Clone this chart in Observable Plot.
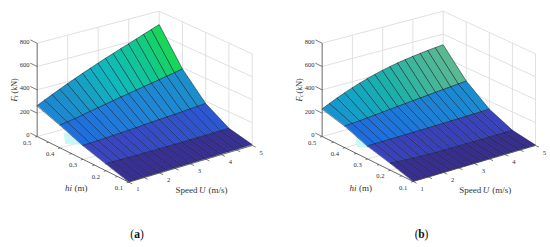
<!DOCTYPE html>
<html><head><meta charset="utf-8">
<script src="https://cdn.jsdelivr.net/npm/d3@7"></script>
<script src="https://cdn.jsdelivr.net/npm/@observablehq/plot@0.6"></script>
<style>
html,body{margin:0;padding:0;background:#fff;width:550px;height:247px;overflow:hidden}
#root{display:flex;width:550px;height:247px}
svg{display:block}
</style></head><body><div id="root"></div>
<script>
const speeds = [1,1.25,1.5,1.75,2,2.25,2.5,2.75,3,3.25,3.5,3.75,4,4.25,4.5,4.75,5];
const hiLevels = [0.1,0.2,0.3,0.4,0.5];

const forceA_01 = [4,4,4,5,5,5,5,6,6,6,6,7,7,7,8,8,8];
const forceA_02 = [60,58,57,56,55,54,54,54,54,54,54,54,55,55,56,56,57];
const forceA_03 = [118,120,123,127,130,133,137,141,146,150,154,158,162,166,171,175,180];
const forceA_04 = [196,205,215,228,242,254,266,279,291,303,315,327,338,350,363,376,389];
const forceA_05 = [265,296,326,355,383,411,438,464,490,515,539,563,587,611,635,659,683];

const forceB_01 = [3,3,3,3,3,3,3,3,3,3,4,4,4,4,4,4,4];
const forceB_02 = [60,54,50,47,44,42,40,39,38,38,38,38,38,38,39,39,40];
const forceB_03 = [111,112,113,114,115,116,117,118,119,120,121,123,124,126,127,129,131];
const forceB_04 = [186,190,195,202,208,214,221,228,234,241,247,253,259,265,271,277,283];
const forceB_05 = [237,267,296,323,348,371,392,411,428,443,456,467,477,486,494,501,507];

const forceTicks = [0,200,400,600,800];
const hiTickLabels = ["0.1","0.2","0.3","0.4","0.5"];
const speedTickLabels = ["1","2","3","4","5"];
const hiMinor = [0.1,0.15,0.2,0.25,0.3,0.35,0.4,0.45,0.5];
const speedMinor = [1,1.5,2,2.5,3,3.5,4,4.5,5];
const patchSpeed = [1.72,1.28,1.59,2.1];
const patchHi = [0.48,0.414,0.383,0.42];

function panel(cfg){
  const {lo,up,rows} = cfg;
  const P = (U,hi,F)=>{
    const u=(U-1)/4,v=(hi-0.1)/0.4,w=F/800;
    const bil=(c,k)=>(1-u)*(1-v)*c[0][k]+u*(1-v)*c[1][k]+(1-u)*v*c[2][k]+u*v*c[3][k];
    return [0,1].map(k=>bil(lo,k)*(1-w)+bil(up,k)*w);
  };
  const seg=(a,b)=>{const p=P(...a),q=P(...b);return {x1:p[0],y1:p[1],x2:q[0],y2:q[1]};};

  const quads=[];
  for(let r=rows.length-2;r>=0;r--) for(let i=0;i<speeds.length-1;i++){
    const c=[[speeds[i],hiLevels[r],rows[r][i]],[speeds[i+1],hiLevels[r],rows[r][i+1]],
             [speeds[i+1],hiLevels[r+1],rows[r+1][i+1]],[speeds[i],hiLevels[r+1],rows[r+1][i]]];
    const mean=d3.mean(c,d=>d[2]);
    c.forEach(d=>{const p=P(...d);quads.push({id:r*100+i,x:p[0],y:p[1],mean});});
  }
  const grid=[];
  for(const F of forceTicks){
    grid.push(seg([1,.5,F],[5,.5,F]),seg([5,.5,F],[5,.1,F]));
  }
  for(const U of [2,3,4,5]) grid.push(seg([U,.5,0],[U,.5,800]));
  for(const h of [.2,.3,.4,.1]) grid.push(seg([5,h,0],[5,h,800]));
  for(const U of [2,3,4]) grid.push(seg([U,.5,0],[U,.1,0]));
  for(const h of [.2,.3,.4]) grid.push(seg([1,h,0],[5,h,0]));

  const axes=[seg([1,.5,0],[1,.5,800]),seg([1,.5,0],[1,.1,0]),seg([1,.1,0],[5,.1,0])];
  const ticks=[
    ...forceTicks.map(F=>seg([1,.5,F],[1,.53,F])),
    ...hiMinor.map(h=>seg([1,h,0],[.93,h,0])),
    ...speedMinor.map(U=>seg([U,.1,0],[U,.085,0]))
  ];
  const patch=patchSpeed.map((U,i)=>{const p=P(U,patchHi[i]+cfg.patchShift,0);return {x:p[0],y:p[1]};});

  const zLab=forceTicks.map(F=>{const p=P(1,.5,F);return {x:p[0]-7.5,y:p[1]-1.5,t:String(F)};});
  const hLab=hiLevels.map((h,i)=>{const p=P(1,h,0);return {x:p[0]-10,y:p[1]+6,t:hiTickLabels[i]};});
  const uLab=[1,2,3,4,5].map((U,i)=>{const p=P(U,.1,0);return {x:p[0]+9,y:p[1]+7,t:speedTickLabels[i]};});

  const serif="Liberation Serif";
  const tx=(s,x,y,o={})=>Plot.text([s],{x:()=>x,y:()=>y,text:d=>d,fontFamily:serif,fill:"#333",fontSize:9,...o});
  const T=cfg.titles;

  return Plot.plot({
    width:275,height:247,marginTop:0,marginBottom:0,marginLeft:0,marginRight:0,
    style:{background:"transparent"},
    x:{domain:[0,275],range:[0,275],axis:null},
    y:{domain:[0,247],range:[0,247],axis:null},
    color:{type:"linear",domain:cfg.colorDomain,range:cfg.colorRange,clamp:true},
    marks:[
      Plot.link(grid,{x1:"x1",y1:"y1",x2:"x2",y2:"y2",stroke:"#dcdcdc",strokeWidth:0.9}),
      Plot.line(patch,{x:"x",y:"y",curve:"linear-closed",fill:"#c9f7f7",stroke:"none"}),
      Plot.line(quads,{x:"x",y:"y",z:"id",curve:"linear-closed",fill:"mean",stroke:"#14243c",strokeWidth:0.6,strokeOpacity:0.9}),
      Plot.link(axes,{x1:"x1",y1:"y1",x2:"x2",y2:"y2",stroke:"#444",strokeWidth:0.8}),
      Plot.link(ticks,{x1:"x1",y1:"y1",x2:"x2",y2:"y2",stroke:"#444",strokeWidth:0.7}),
      Plot.text(zLab,{x:"x",y:"y",text:"t",textAnchor:"end",fontFamily:serif,fontSize:6.6,fill:"#333"}),
      Plot.text(hLab,{x:"x",y:"y",text:"t",fontFamily:serif,fontSize:6.6,fill:"#333"}),
      Plot.text(uLab,{x:"x",y:"y",text:"t",fontFamily:serif,fontSize:6.6,fill:"#333"}),
      tx("Speed",T.sx,T.sy,{textAnchor:"end"}),
      tx("U",T.sx+4.8,T.sy,{fontStyle:"italic"}),
      tx("(m/s)",T.sx+11,T.sy,{textAnchor:"start"}),
      tx("hi",T.hx,T.hy,{textAnchor:"end",fontStyle:"italic"}),
      tx("(m)",T.hx+2.5,T.hy,{textAnchor:"start"}),
      tx("F",T.fx,T.fy,{rotate:-90,textAnchor:"start",fontStyle:"italic",fontSize:8}),
      tx(T.sub,T.fx+1.8,T.fy-4.5,{rotate:-90,textAnchor:"start",fontStyle:"italic",fontSize:5.5}),
      tx("(kN)",T.fx,T.fy-8,{rotate:-90,textAnchor:"start",fontSize:8}),
      tx("(",T.cx-3,234,{textAnchor:"end",fill:"#111",fontSize:11.5}),
      tx(T.cap,T.cx,234,{fontWeight:"bold",fill:"#111",fontSize:11.5}),
      tx(")",T.cx+3,234,{textAnchor:"start",fill:"#111",fontSize:11.5})
    ]
  });
}
const div3=a=>a.map(p=>[p[0]/3,p[1]/3]);
const low=["#352a80","#392f92","#3a45c0","#1f68e0"];
const root=document.getElementById("root");
root.append(panel({
  rows:[forceA_01,forceA_02,forceA_03,forceA_04,forceA_05],
  lo:div3([[385,545],[755,435],[110,408],[476,307]]),
  up:div3([[385,260],[755,160],[110,128],[476,32]]),
  patchShift:0,
  colorDomain:[0,30,90,140,232,300,392,470,536],
  colorRange:[...low,"#1f85d5","#1a92c8","#10b8c0","#10c890","#18d850"],
  titles:{sub:"t",sx:197,sy:189.5,hx:71.5,hy:187.5,fx:13.5,fy:101,cap:"a",cx:136.5}
}));
root.append(panel({
  rows:[forceB_01,forceB_02,forceB_03,forceB_04,forceB_05],
  lo:div3([[413,543],[780,435],[140,408],[503,307]]),
  up:div3([[413,260],[780,160],[140,128],[503,32]]),
  patchShift:-0.03,
  colorDomain:[0,30,90,140,211,270,330,395],
  colorRange:[...low,"#1a90d0","#12a5c4","#1cb2a8","#5cb98f"],
  titles:{sub:"c",sx:205.7,sy:189.5,hx:81,hy:187.5,fx:24,fy:101,cap:"b",cx:146}
}));
</script></body></html>
